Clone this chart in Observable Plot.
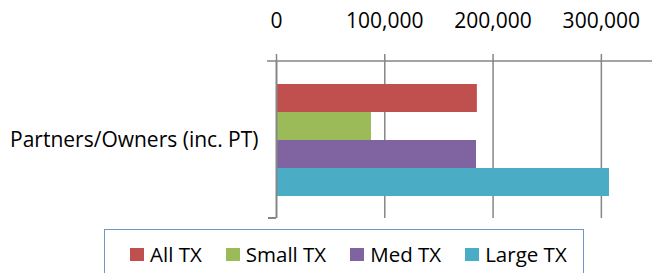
<!DOCTYPE html>
<html><head><meta charset="utf-8">
<script src="https://cdn.jsdelivr.net/npm/d3@7"></script>
<script src="https://cdn.jsdelivr.net/npm/@observablehq/plot@0.6"></script>
<style>
body{margin:0;background:#fff;font-family:"Open Sans",sans-serif;}
#chart{position:relative;width:652px;height:273px;overflow:hidden;background:#fff;}
#chart svg{display:block;}
.legend{position:absolute;left:104px;top:229px;width:480px;height:70px;border:1.5px solid #7396c8;box-sizing:border-box;display:flex;flex-wrap:nowrap;align-items:flex-start;padding-left:25px;padding-top:12px;white-space:nowrap;}
.item{display:flex;flex:none;align-items:center;margin-right:24px;font-size:20.5px;line-height:24px;color:#000;white-space:nowrap;}
.sw{flex:none;width:14px;height:13px;margin-right:6px;}
</style>
</head><body>
<div id="chart"></div>
<script>
const category = ["Partners/Owners (inc. PT)"];
const series = ["All TX", "Small TX", "Med TX", "Large TX"];
const values = [185500, 87700, 184700, 307500];
const colors = ["#C0504D", "#9BBB59", "#8064A2", "#4BACC6"];
const xTicks = [0, 100000, 200000, 300000];
const xMax = 350000;

const data = series.map((s, i) => ({category: category[0], series: s, value: values[i]}));
const gray = "#868686";

const chart = Plot.plot({
  width: 652, height: 229,
  marginTop: 61, marginBottom: 11, marginLeft: 276, marginRight: -3,
  style: {fontFamily: "'Open Sans', sans-serif", fontSize: "21px", color: "#000", background: "#fff", overflow: "visible"},
  x: {domain: [0, xMax], axis: null},
  y: {domain: series, paddingInner: 0, paddingOuter: 0.73, axis: null},
  fy: {domain: category, padding: 0, axis: null},
  color: {domain: series, range: colors},
  marks: [
    Plot.gridX(xTicks.slice(1), {stroke: gray, strokeOpacity: 1, strokeWidth: 1.5}),
    Plot.barX(data, {fy: "category", y: "series", x: "value", fill: "series"}),
    Plot.ruleX([0], {stroke: gray, strokeWidth: 2}),
    Plot.axisX({anchor: "top", ticks: xTicks, tickFormat: d3.format(","), tickSize: 8, tickPadding: 26, stroke: gray, strokeWidth: 1.5, fontSize: 21, label: null}),
    Plot.axisFy({anchor: "left", tickSize: 0, tickPadding: 18, label: null, fontSize: 21})
  ]
});

// category-axis boundary ticks and the top axis line, positioned from the chart's scales
const xs = chart.scale("x"), fys = chart.scale("fy");
const x0 = xs.apply(0);
const bandTop = fys.apply(category[0]);
const bandBottom = bandTop + fys.bandwidth;
const svg = d3.select(chart);
svg.append("line").attr("x1", x0 - 9).attr("x2", 652).attr("y1", bandTop).attr("y2", bandTop)
  .attr("stroke", gray).attr("stroke-width", 1.5);
svg.append("line").attr("x1", x0 - 8).attr("x2", x0).attr("y1", bandBottom).attr("y2", bandBottom)
  .attr("stroke", gray).attr("stroke-width", 2);

const root = document.getElementById("chart");
root.appendChild(chart);

const legend = document.createElement("div");
legend.className = "legend";
series.forEach((s, i) => {
  const it = document.createElement("div");
  it.className = "item";
  const sw = document.createElement("span");
  sw.className = "sw";
  sw.style.background = colors[i];
  it.appendChild(sw);
  it.appendChild(document.createTextNode(s));
  legend.appendChild(it);
});
root.appendChild(legend);
</script>
</body></html>
